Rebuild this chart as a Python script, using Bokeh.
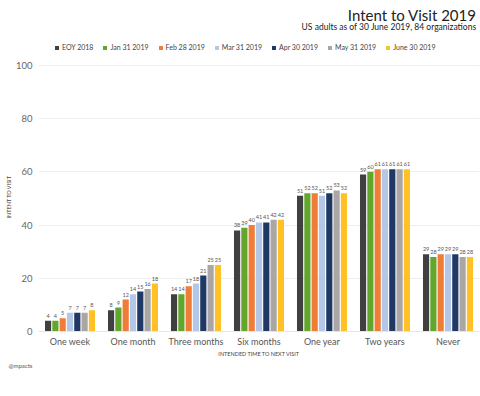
from bokeh.plotting import figure
from bokeh.models import ColumnDataSource, Legend, LegendItem, Label, FixedTicker, Title
from bokeh.transform import dodge
from bokeh.core.properties import value
from bokeh.embed import file_html
from bokeh.resources import INLINE

categories = ["One week", "One month", "Three months", "Six months", "One year", "Two years", "Never"]
series_names = ["EOY 2018", "Jan 31 2019", "Feb 28 2019", "Mar 31 2019", "Apr 30 2019", "May 31 2019", "June 30 2019"]
eoy_2018 = [4, 8, 14, 38, 51, 59, 29]
jan_2019 = [4, 9, 14, 39, 52, 60, 28]
feb_2019 = [5, 12, 17, 40, 52, 61, 29]
mar_2019 = [7, 14, 18, 41, 51, 61, 29]
apr_2019 = [7, 15, 21, 41, 52, 61, 29]
may_2019 = [7, 16, 25, 42, 53, 61, 28]
jun_2019 = [8, 18, 25, 42, 52, 61, 28]
series_values = [eoy_2018, jan_2019, feb_2019, mar_2019, apr_2019, may_2019, jun_2019]
colors = ["#404040", "#62a62b", "#ef7d38", "#b4c7e7", "#1f3864", "#a9a6a5", "#ffc125"]
y_ticks = [0, 20, 40, 60, 80, 100]

FONT = "Lato"

# frame spans the full top so the title and legend sit inside it
p = figure(width=480, height=396, x_range=categories, y_range=(0, 124.4),
           output_backend="svg", toolbar_location=None,
           min_border_top=0, min_border_bottom=65, min_border_left=38, min_border_right=1)
p.outline_line_color = None
p.background_fill_color = "white"

step = 0.116
bw = 0.098
items = []
for i, (name, vals, col) in enumerate(zip(series_names, series_values, colors)):
    off = (i - 3) * step
    src = ColumnDataSource(dict(cat=categories, val=vals, lbl=[str(v) for v in vals]))
    r = p.vbar(x=dodge("cat", off, range=p.x_range), top="val", width=bw, source=src,
               fill_color=col, line_color=None)
    p.text(x=dodge("cat", off, range=p.x_range), y="val", text="lbl", source=src,
           text_align="center", text_baseline="bottom", y_offset=-3,
           text_font=value(FONT), text_font_size="5.5px", text_color="#555555")
    items.append(LegendItem(label=name, renderers=[r]))

legend = Legend(items=items, orientation="horizontal", location=(16, 280),
                glyph_width=5, glyph_height=5, label_standoff=3, spacing=9,
                padding=0, margin=0, label_text_font=FONT, label_text_font_size="7px",
                label_text_color="#444444", label_height=7, border_line_color=None,
                background_fill_alpha=0)
p.add_layout(legend, "center")

p.yaxis.ticker = FixedTicker(ticks=y_ticks)
p.yaxis.axis_line_color = None
p.yaxis.major_tick_line_color = None
p.yaxis.minor_tick_line_color = None
p.yaxis.major_tick_out = 0
p.yaxis.major_label_standoff = 6
p.yaxis.major_label_text_font = FONT
p.yaxis.major_label_text_font_size = "9.5px"
p.yaxis.major_label_text_color = "#666666"

p.xaxis.axis_line_color = "#e6e6e6"
p.xaxis.major_tick_line_color = None
p.xaxis.minor_tick_line_color = None
p.xaxis.major_tick_out = 0
p.xaxis.major_label_standoff = 4
p.xaxis.major_label_text_font = FONT
p.xaxis.major_label_text_font_size = "9px"
p.xaxis.major_label_text_color = "#555555"
p.xaxis.axis_label = "INTENDED TIME TO NEXT VISIT"
p.xaxis.axis_label_text_font = FONT
p.xaxis.axis_label_text_font_size = "5.5px"
p.xaxis.axis_label_text_font_style = "normal"
p.xaxis.axis_label_text_color = "#444444"
p.xaxis.axis_label_standoff = 1

p.xgrid.grid_line_color = None
p.ygrid.grid_line_color = "#eeeeee"

p.add_layout(Title(text="INTENT TO VISIT", align="left", offset=113, standoff=2,
                   text_font=FONT, text_font_size="5.5px", text_font_style="normal",
                   text_color="#444444"), "left")
p.add_layout(Title(text="@mpacts", align="left", offset=-30, standoff=0,
                   text_line_height=0.5,
                   text_font=FONT, text_font_size="6px", text_font_style="normal",
                   text_color="#555555"), "below")

p.add_layout(Label(x=438, y=317, x_units="screen", y_units="screen", text="Intent to Visit 2019",
                   text_align="right", text_baseline="middle", text_font=FONT,
                   text_font_size="15px", text_color="#222222"))
p.add_layout(Label(x=438, y=305, x_units="screen", y_units="screen",
                   text="US adults as of 30 June 2019, 84 organizations",
                   text_align="right", text_baseline="middle", text_font=FONT,
                   text_font_size="8.5px", text_color="#222222"))

open("out.html", "w").write(file_html(p, INLINE))
